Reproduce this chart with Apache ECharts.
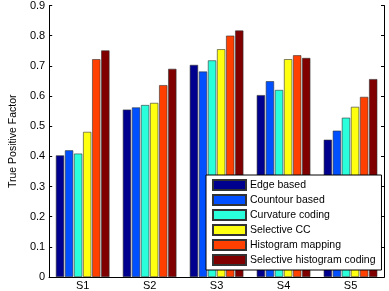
<!DOCTYPE html>
<html>
<head>
<meta charset="utf-8">
<script src="https://cdn.jsdelivr.net/npm/echarts@6/dist/echarts.min.js"></script>
<style>html,body{margin:0;padding:0;background:#fff}#c{width:389px;height:291px}</style>
</head>
<body>
<div id="c"></div>
<script>
const categories = ['S1', 'S2', 'S3', 'S4', 'S5'];
const seriesNames = ['Edge based', 'Countour based', 'Curvature coding', 'Selective CC', 'Histogram mapping', 'Selective histogram coding'];
const edgeBased = [0.403, 0.555, 0.703, 0.603, 0.455];
const contourBased = [0.420, 0.562, 0.681, 0.649, 0.485];
const curvatureCoding = [0.409, 0.570, 0.718, 0.620, 0.528];
const selectiveCC = [0.481, 0.577, 0.755, 0.722, 0.564];
const histogramMapping = [0.722, 0.636, 0.800, 0.735, 0.597];
const selectiveHistCoding = [0.751, 0.690, 0.817, 0.726, 0.656];
const yTicks = [0, 0.1, 0.2, 0.3, 0.4, 0.5, 0.6, 0.7, 0.8, 0.9];

const colors = ['#00008f', '#0050ff', '#2affdc', '#ffff10', '#ff4000', '#800000'];
const allData = [edgeBased, contourBased, curvatureCoding, selectiveCC, histogramMapping, selectiveHistCoding];
const font = 'Liberation Sans, Arial, sans-serif';

const chart = echarts.init(document.getElementById('c'), null, {renderer: 'canvas'});
chart.setOption({
  animation: false,
  backgroundColor: '#fff',
  grid: {left: 34, right: 5, top: 4, bottom: 13, containLabel: false},
  legend: {
    orient: 'vertical', left: 206, top: 175,
    icon: 'rect',
    itemWidth: 33, itemHeight: 10, itemGap: 3,
    padding: [4, 6, 4, 6],
    borderColor: '#000', borderWidth: 1, backgroundColor: '#fff',
    textStyle: {fontFamily: font, fontSize: 10.5, color: '#000', padding: [0, 0, 0, -1]},
    data: seriesNames
  },
  xAxis: [
    {type: 'category', data: categories, boundaryGap: true,
     axisLine: {lineStyle: {color: '#000', width: 1}},
     axisTick: {inside: true, alignWithLabel: true, length: 3, lineStyle: {color: '#000'}},
     axisLabel: {fontFamily: font, fontSize: 11, color: '#000', margin: 3}},
    {type: 'category', data: categories, position: 'top', boundaryGap: true,
     axisLine: {lineStyle: {color: '#000', width: 1}},
     axisTick: {inside: true, alignWithLabel: true, length: 3, lineStyle: {color: '#000'}},
     axisLabel: {show: false}}
  ],
  yAxis: [
    {type: 'value', min: yTicks[0], max: yTicks[yTicks.length - 1], interval: 0.1,
     name: 'True Positive Factor', nameLocation: 'middle', nameGap: 26,
     nameTextStyle: {fontFamily: font, fontSize: 10.5, color: '#000'},
     axisLine: {show: true, lineStyle: {color: '#000', width: 1}},
     axisTick: {show: true, inside: true, length: 3, lineStyle: {color: '#000'}},
     splitLine: {show: false},
     axisLabel: {fontFamily: font, fontSize: 11, color: '#000', margin: 4,
       formatter: v => (Math.round(v * 10) / 10).toString()}},
    {type: 'value', min: yTicks[0], max: yTicks[yTicks.length - 1], interval: 0.1, position: 'right',
     axisLine: {show: true, lineStyle: {color: '#000', width: 1}},
     axisTick: {show: true, inside: true, length: 3, lineStyle: {color: '#000'}},
     splitLine: {show: false}, axisLabel: {show: false}}
  ],
  series: seriesNames.map((n, i) => ({
    name: n, type: 'bar', data: allData[i],
    barCategoryGap: '20%', barGap: '10%',
    itemStyle: {color: colors[i], borderColor: '#333', borderWidth: 0.6}
  }))
});
</script>
</body>
</html>
